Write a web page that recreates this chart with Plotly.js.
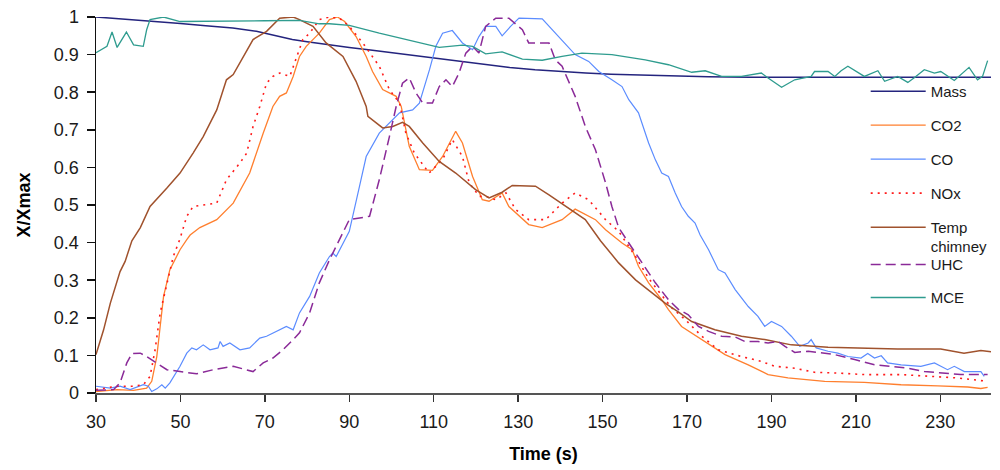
<!DOCTYPE html>
<html>
<head>
<meta charset="utf-8">
<script src="https://cdn.plot.ly/plotly-3.0.1.min.js"></script>
<style>
  body { margin: 0; background: #fff; }
  #chart { width: 1000px; height: 470px; }
</style>
</head>
<body>
<div id="chart"></div>
<script>
// values, normalised X/Xmax against time (s)
var massT = [30, 36, 42.8, 50, 56, 62.4, 68, 72, 76.5, 80, 85.3, 90, 95, 100, 105, 110, 116.7, 122, 128, 134, 140.4, 146, 152, 158, 164, 168, 175, 185, 200, 220, 242];
var massY = [1.0, 0.995, 0.99, 0.983, 0.977, 0.971, 0.962, 0.952, 0.94, 0.934, 0.925, 0.919, 0.912, 0.905, 0.898, 0.892, 0.882, 0.875, 0.866, 0.86, 0.855, 0.851, 0.848, 0.846, 0.844, 0.843, 0.841, 0.84, 0.84, 0.84, 0.84];

var co2T = [30, 35, 38.9, 42, 43.2, 44.4, 45.2, 46, 47.5, 49.9, 51.5, 52.3, 54.6, 58.6, 62.5, 66.4, 69.6, 71.9, 73.5, 75.1, 76.7, 78.2, 79.8, 82.9, 85.3, 87.2, 88.9, 91.6, 94, 95.5, 97.9, 101.1, 102.3, 104.2, 106.6, 109.7, 112.1, 115.2, 116.8, 119.2, 121.5, 123.1, 126.2, 127.8, 132.5, 135.7, 140.4, 143.5, 148.3, 150.7, 154.6, 157, 158.5, 160.9, 164, 165.6, 168.7, 173.5, 179, 184.5, 189.2, 193.9, 202.6, 212, 220.7, 229.4, 236.5, 239.6, 241.2];
var co2Y = [0.004, 0.009, 0.007, 0.013, 0.031, 0.097, 0.177, 0.257, 0.328, 0.381, 0.408, 0.42, 0.44, 0.461, 0.505, 0.585, 0.691, 0.762, 0.789, 0.798, 0.842, 0.895, 0.922, 0.957, 0.993, 1.0, 0.988, 0.948, 0.895, 0.855, 0.807, 0.789, 0.762, 0.656, 0.594, 0.592, 0.629, 0.696, 0.665, 0.576, 0.514, 0.51, 0.532, 0.496, 0.448, 0.44, 0.461, 0.489, 0.461, 0.434, 0.399, 0.381, 0.337, 0.293, 0.248, 0.222, 0.177, 0.142, 0.102, 0.075, 0.049, 0.04, 0.031, 0.028, 0.022, 0.019, 0.016, 0.012, 0.015];

var coT = [30, 33.4, 35.7, 38.1, 41.2, 42.4, 43.2, 44.4, 45.6, 46.4, 47.5, 49.9, 51.5, 52.7, 53.8, 55.4, 57, 58.9, 59.4, 60.1, 61.7, 64.1, 66.4, 68.8, 70.4, 71.9, 75.1, 76.7, 78.2, 80.6, 82.9, 85.3, 86.1, 86.9, 88.5, 90, 92.4, 94, 97.1, 99.5, 101.9, 105, 106.6, 109, 110.5, 112.1, 114.4, 116.8, 119.2, 120.7, 122.3, 124.7, 126.2, 128.2, 130.2, 135.7, 138.8, 140.4, 143.5, 146.7, 149.1, 152.2, 154.6, 156.2, 158.5, 160.9, 162.5, 164, 165.6, 167.2, 168.7, 170.3, 171.9, 173.1, 175.1, 177.4, 179, 181.4, 184.5, 186.8, 188.4, 190, 192.4, 194.7, 196.7, 198.7, 199.4, 200.6, 203.4, 205.7, 208.1, 211.2, 212.8, 214.4, 216, 217.5, 220.7, 225.4, 228.6, 231.7, 233.3, 235.7, 239.6, 240.4];
var coY = [0.018, 0.013, 0.018, 0.009, 0.022, 0.018, 0.004, 0.011, 0.022, 0.013, 0.027, 0.071, 0.106, 0.12, 0.115, 0.128, 0.115, 0.12, 0.137, 0.124, 0.133, 0.115, 0.12, 0.146, 0.151, 0.16, 0.177, 0.168, 0.213, 0.257, 0.319, 0.363, 0.372, 0.363, 0.399, 0.43, 0.549, 0.629, 0.691, 0.718, 0.745, 0.753, 0.771, 0.86, 0.922, 0.957, 0.964, 0.931, 0.913, 0.948, 0.975, 0.975, 0.95, 0.975, 0.997, 0.995, 0.957, 0.94, 0.9, 0.882, 0.855, 0.833, 0.815, 0.78, 0.745, 0.665, 0.62, 0.585, 0.576, 0.532, 0.496, 0.47, 0.452, 0.42, 0.381, 0.328, 0.319, 0.275, 0.23, 0.204, 0.177, 0.19, 0.177, 0.151, 0.124, 0.133, 0.142, 0.12, 0.111, 0.106, 0.097, 0.093, 0.105, 0.093, 0.099, 0.08, 0.075, 0.071, 0.08, 0.062, 0.071, 0.057, 0.057, 0.044];

var noxT = [30, 35, 38.9, 41.2, 42.8, 44, 45.2, 46.8, 48.3, 49.9, 51.5, 53, 56.2, 58.6, 60.9, 64.1, 65.7, 67.2, 68.8, 70.4, 71.9, 73.5, 75.9, 77.5, 79, 80.6, 82.9, 85.3, 87.7, 90, 93.2, 97.1, 99.5, 101.9, 103.4, 105.4, 108.9, 112.1, 114.4, 116.8, 118.4, 120.8, 122.3, 124.7, 127.1, 129.4, 132.5, 136.5, 140.4, 143.5, 146.7, 150.7, 153.8, 157.8, 160.9, 163.3, 166.4, 169.6, 173.5, 177.4, 182.9, 187.6, 190.8, 195.5, 200.2, 205.7, 212, 220.7, 227.8, 234.1, 241.2];
var noxY = [0.009, 0.018, 0.018, 0.022, 0.044, 0.115, 0.213, 0.293, 0.363, 0.41, 0.47, 0.496, 0.501, 0.505, 0.567, 0.612, 0.638, 0.709, 0.762, 0.824, 0.842, 0.851, 0.842, 0.895, 0.94, 0.957, 0.993, 1.0, 0.997, 0.975, 0.931, 0.869, 0.807, 0.771, 0.691, 0.638, 0.585, 0.621, 0.674, 0.629, 0.559, 0.523, 0.523, 0.514, 0.532, 0.488, 0.461, 0.461, 0.505, 0.532, 0.514, 0.461, 0.43, 0.363, 0.305, 0.27, 0.226, 0.195, 0.151, 0.115, 0.097, 0.084, 0.071, 0.066, 0.055, 0.053, 0.049, 0.049, 0.044, 0.04, 0.031];

var tempT = [30, 31.8, 33.4, 35.7, 36.9, 38.5, 40.5, 42.8, 46.8, 49.9, 53, 55.4, 58.6, 60.9, 62.5, 65.7, 67.2, 70.4, 73.5, 76.7, 78.2, 81.4, 84.5, 88.5, 91.6, 94, 94.4, 97.9, 100.3, 102.6, 104.2, 107.4, 111.3, 115.2, 119.9, 123.1, 126.2, 128.6, 134.1, 137.3, 142, 145.9, 149.5, 153.8, 157.8, 161.7, 164.8, 168, 171.1, 176.6, 182.9, 188.4, 194.7, 203.4, 212, 219.9, 230.1, 235.6, 239.6, 242];
var tempY = [0.102, 0.168, 0.239, 0.323, 0.35, 0.405, 0.44, 0.496, 0.545, 0.585, 0.638, 0.682, 0.753, 0.833, 0.847, 0.913, 0.94, 0.962, 0.997, 1.0, 0.993, 0.975, 0.931, 0.895, 0.829, 0.762, 0.736, 0.705, 0.709, 0.72, 0.709, 0.665, 0.616, 0.585, 0.541, 0.519, 0.534, 0.552, 0.55, 0.527, 0.492, 0.461, 0.405, 0.346, 0.301, 0.266, 0.239, 0.215, 0.19, 0.168, 0.151, 0.142, 0.128, 0.122, 0.12, 0.117, 0.117, 0.106, 0.113, 0.11];

var uhcT = [30, 34.2, 35.7, 37.3, 38.5, 40.5, 42, 44.4, 46.8, 49.9, 53.8, 57.8, 62.5, 67.2, 69.6, 71.9, 74.3, 76.7, 78.2, 80.6, 82.9, 85.3, 87.7, 90, 94.8, 97.1, 99.5, 101.1, 102.6, 104.2, 105.8, 107.4, 109.7, 111.3, 112.9, 114.4, 116, 117.6, 119.2, 120.7, 122.3, 124.7, 127.8, 131, 132.5, 137.3, 138.8, 140.4, 143.5, 145.9, 148.3, 150.7, 152.2, 153.8, 156.2, 159.3, 162.5, 165.6, 168, 170.3, 172.7, 175.1, 178.2, 181.4, 183.7, 186.8, 189.2, 191.6, 193.2, 195.5, 198.7, 201, 205, 209.7, 214.4, 218.3, 222.3, 226.2, 230.1, 234.8, 241.2];
var uhcY = [0.007, 0.009, 0.027, 0.08, 0.105, 0.106, 0.097, 0.08, 0.062, 0.057, 0.051, 0.062, 0.071, 0.057, 0.08, 0.093, 0.115, 0.142, 0.16, 0.213, 0.293, 0.354, 0.41, 0.461, 0.47, 0.567, 0.682, 0.762, 0.824, 0.838, 0.798, 0.771, 0.771, 0.815, 0.833, 0.815, 0.851, 0.904, 0.922, 0.904, 0.975, 0.997, 0.997, 0.966, 0.931, 0.931, 0.886, 0.869, 0.789, 0.709, 0.647, 0.559, 0.496, 0.44, 0.399, 0.346, 0.293, 0.248, 0.222, 0.208, 0.177, 0.164, 0.151, 0.149, 0.137, 0.137, 0.133, 0.137, 0.124, 0.108, 0.111, 0.108, 0.102, 0.089, 0.075, 0.071, 0.066, 0.057, 0.053, 0.049, 0.049];

var mceT = [30, 32.6, 33.8, 35, 37.2, 38.9, 41.2, 42, 42.8, 46, 49.9, 55, 62.4, 70, 78.2, 82.9, 85.3, 90, 97.1, 105, 111.3, 116.8, 119.2, 122.3, 126.2, 131, 135.7, 140.4, 145.1, 152.2, 160.1, 165.6, 171.1, 174.3, 178.2, 182.9, 187.6, 189.2, 192.4, 195.5, 199.4, 200.2, 203.4, 205, 206.5, 208.1, 212, 215.2, 216.8, 219.9, 222.3, 223.9, 226.2, 228.6, 230.1, 233.3, 236.8, 238.8, 240, 241.2];
var mceY = [0.905, 0.922, 0.96, 0.919, 0.96, 0.926, 0.922, 0.966, 0.993, 1.0, 0.988, 0.988, 0.99, 0.99, 0.991, 0.982, 0.982, 0.978, 0.957, 0.935, 0.919, 0.925, 0.922, 0.902, 0.907, 0.888, 0.885, 0.895, 0.904, 0.9, 0.886, 0.873, 0.853, 0.857, 0.842, 0.842, 0.851, 0.838, 0.813, 0.833, 0.842, 0.855, 0.855, 0.842, 0.857, 0.869, 0.842, 0.857, 0.829, 0.842, 0.826, 0.839, 0.86, 0.851, 0.855, 0.831, 0.866, 0.833, 0.842, 0.884];

function line(name, x, y, color, width, dash, legend) {
  return {
    type: 'scatter', mode: 'lines', name: name, x: x, y: y,
    line: { color: color, width: width, dash: dash || 'solid' },
    legendgroup: name, legend: legend || 'legend', hoverinfo: 'x+y+name'
  };
}

var data = [
  line('Mass', massT, massY, '#24247e', 1.5),
  line('CO2', co2T, co2Y, '#ff7f2e', 1.3),
  line('CO', coT, coY, '#5b8cff', 1.2),
  line('NOx', noxT, noxY, '#ff1a1a', 1.6, '2px,5px'),
  line('Temp<br>chimney', tempT, tempY, '#a0522d', 1.5),
  line('UHC', uhcT, uhcY, '#8a2a98', 1.5, '10px,5px', 'legend2'),
  line('MCE', mceT, mceY, '#2f9c8f', 1.3, 'solid', 'legend2')
];

var fam = 'Liberation Sans, Arial, sans-serif';
var tickFont = { family: fam, size: 18, color: '#1a1a1a' };
var legendFont = { family: fam, size: 15, color: '#1a1a1a' };
var titleFont = { family: fam, size: 18, color: '#000' };

var layout = {
  width: 1000,
  height: 470,
  margin: { l: 96, r: 7, t: 17, b: 77 },
  paper_bgcolor: '#fff',
  plot_bgcolor: '#fff',
  font: tickFont,
  xaxis: {
    range: [30, 242], tick0: 30, dtick: 20,
    ticks: 'outside', ticklen: 7, tickcolor: '#333', tickwidth: 1.5,
    ticklabelstandoff: 4,
    showline: true, linecolor: '#555', linewidth: 2,
    showgrid: false, zeroline: false, tickfont: tickFont,
    title: { text: '<b>Time (s)</b>', font: titleFont, standoff: 17 }
  },
  yaxis: {
    range: [0, 1], tick0: 0, dtick: 0.1,
    ticks: 'outside', ticklen: 8, tickcolor: '#111', tickwidth: 1.5,
    ticklabelstandoff: 4,
    showline: true, linecolor: '#111', linewidth: 1.5,
    showgrid: false, zeroline: false, tickfont: tickFont,
    title: { text: '<b>X/Xmax</b>', font: titleFont, standoff: 18 }
  },
  legend: {
    x: 0.86, xanchor: 'left', y: 0.846, yanchor: 'top',
    bgcolor: 'rgba(0,0,0,0)', font: legendFont,
    traceorder: 'grouped', tracegroupgap: 11.5, valign: 'top', itemwidth: 55
  },
  legend2: {
    x: 0.86, xanchor: 'left', y: 0.385, yanchor: 'top',
    bgcolor: 'rgba(0,0,0,0)', font: legendFont,
    traceorder: 'grouped', tracegroupgap: 10.5, valign: 'top', itemwidth: 55
  },
  showlegend: true
};

Plotly.newPlot('chart', data, layout, { displayModeBar: false, staticPlot: true });
</script>
</body>
</html>
